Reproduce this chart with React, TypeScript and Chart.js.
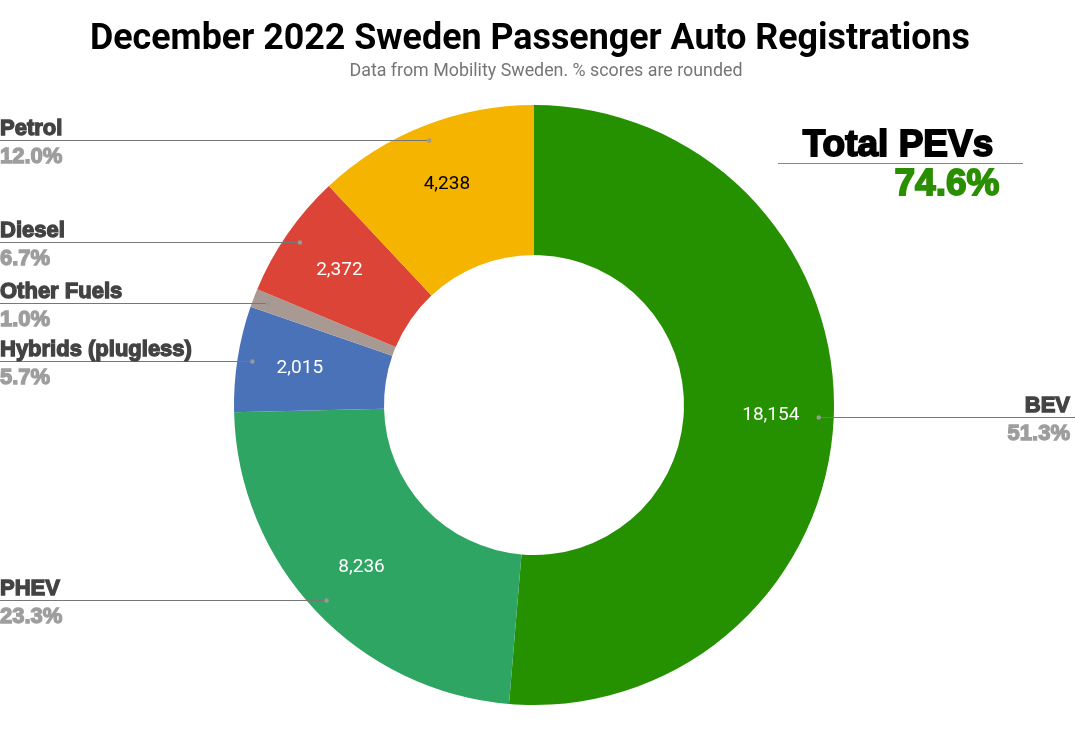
import React, { useEffect, useRef } from "react";
import { Chart, registerables } from "chart.js";

Chart.register(...registerables);

const TITLE = "December 2022 Sweden Passenger Auto Registrations";
const SUBTITLE = "Data from Mobility Sweden. % scores are rounded";
const CATEGORIES = ["BEV", "PHEV", "Hybrids (plugless)", "Other Fuels", "Diesel", "Petrol"];
const VALUES = [18154, 8236, 2015, 354, 2372, 4238];
const COLORS = ["#259000", "#2EA562", "#4A72B8", "#A89A93", "#DB4437", "#F4B400"];
const VALUE_TEXT_COLORS = ["#ffffff", "#ffffff", "#ffffff", "#ffffff", "#ffffff", "#000000"];
const PEV_CATEGORIES = ["BEV", "PHEV"];
const PEV_TITLE = "Total PEVs";

const W = 1075;
const H = 735;

function fitText(ctx: CanvasRenderingContext2D, text: string, cx: number, y: number, width: number) {
  const w = ctx.measureText(text).width;
  ctx.save();
  ctx.translate(cx, y);
  ctx.scale(width / w, 1);
  ctx.textAlign = "center";
  ctx.fillText(text, 0, 0);
  ctx.restore();
}

const labelPlugin = {
  id: "customLabels",
  afterDraw(chart: any) {
    const ctx = chart.ctx as CanvasRenderingContext2D;
    const meta = chart.getDatasetMeta(0);
    const total = VALUES.reduce((a, b) => a + b, 0);
    ctx.save();

    // Title
    ctx.fillStyle = "#000";
    ctx.textBaseline = "alphabetic";
    ctx.font = "bold 37px Roboto";
    fitText(ctx, TITLE, 530, 49, 880);
    ctx.fillStyle = "#757575";
    ctx.font = "18px Roboto";
    fitText(ctx, SUBTITLE, 546, 76, 393);

    const items: any[] = [];
    meta.data.forEach((arc: any, i: number) => {
      const mid = (arc.startAngle + arc.endAngle) / 2;
      const cx = arc.x, cy = arc.y;
      const rDot = arc.outerRadius * 0.95;
      const rVal = (arc.innerRadius + arc.outerRadius) / 2 + 12;
      ctx.font = "19px Roboto";
      ctx.fillStyle = VALUE_TEXT_COLORS[i];
      ctx.textAlign = "center";
      ctx.textBaseline = "middle";
      if (VALUES[i] / total > 0.02) {
        ctx.fillText(VALUES[i].toLocaleString("en-US"), cx + Math.cos(mid) * rVal, cy + Math.sin(mid) * rVal);
      }
      items.push({
        i,
        cx,
        cy,
        r: rDot,
        side: Math.cos(mid) >= 0 ? 1 : -1,
        y: cy + Math.sin(mid) * rDot,
      });
    });

    // keep labels apart (bottom-up)
    const minGap = 58;
    [-1, 1].forEach((side) => {
      const group = items.filter((it) => it.side === side).sort((a, b) => b.y - a.y);
      for (let k = 1; k < group.length; k++) {
        if (group[k].y > group[k - 1].y - minGap) group[k].y = group[k - 1].y - minGap;
      }
    });

    items.forEach((it) => {
      const dy = it.y - it.cy;
      const dx = Math.sqrt(Math.max(it.r * it.r - dy * dy, 0));
      const x = it.cx + it.side * dx;
      const y = Math.round(it.y) + 0.5;
      const edge = it.side < 0 ? 0 : W;
      ctx.strokeStyle = "#777";
      ctx.lineWidth = 1;
      ctx.beginPath();
      ctx.moveTo(x, y);
      ctx.lineTo(edge, y);
      ctx.stroke();
      ctx.fillStyle = "#999";
      ctx.beginPath();
      ctx.arc(x, y, 2.2, 0, Math.PI * 2);
      ctx.fill();

      const tx = it.side < 0 ? 0 : W - 5;
      ctx.textAlign = it.side < 0 ? "left" : "right";
      ctx.font = "bold 22px 'Liberation Sans'";
      ctx.lineWidth = 1.3;
      ctx.textBaseline = "alphabetic";
      ctx.fillStyle = "#434343";
      ctx.strokeStyle = "#434343";
      ctx.fillText(CATEGORIES[it.i], tx, y - 6);
      ctx.strokeText(CATEGORIES[it.i], tx, y - 6);
      const pct = ((VALUES[it.i] / total) * 100).toFixed(1) + "%";
      ctx.fillStyle = "#9e9e9e";
      ctx.strokeStyle = "#9e9e9e";
      ctx.fillText(pct, tx, y + 22);
      ctx.strokeText(pct, tx, y + 22);
    });

    // Total PEVs annotation
    const pev = VALUES.filter((_, i) => PEV_CATEGORIES.includes(CATEGORIES[i])).reduce((a, b) => a + b, 0);
    ctx.textAlign = "center";
    ctx.font = "bold 37px 'Liberation Sans'";
    ctx.lineWidth = 1.8;
    ctx.fillStyle = "#000";
    ctx.strokeStyle = "#000";
    ctx.fillText(PEV_TITLE, 898, 156);
    ctx.strokeText(PEV_TITLE, 898, 156);
    ctx.strokeStyle = "#888";
    ctx.lineWidth = 1;
    ctx.beginPath();
    ctx.moveTo(778, 163.5);
    ctx.lineTo(1023, 163.5);
    ctx.stroke();
    const pevTxt = ((pev / total) * 100).toFixed(1) + "%";
    ctx.fillStyle = "#2A8F00";
    ctx.strokeStyle = "#2A8F00";
    ctx.lineWidth = 1.8;
    ctx.fillText(pevTxt, 947, 195);
    ctx.strokeText(pevTxt, 947, 195);

    ctx.restore();
  },
};

export default function App() {
  const ref = useRef<HTMLCanvasElement>(null);
  useEffect(() => {
    if (!ref.current) return;
    const chart = new Chart(ref.current, {
      type: "doughnut",
      data: {
        labels: CATEGORIES,
        datasets: [
          {
            data: VALUES,
            backgroundColor: COLORS,
            borderWidth: 0,
            hoverBorderWidth: 0,
            hoverOffset: 0,
          },
        ],
      },
      options: {
        responsive: false,
        animation: false,
        cutout: "50%",
        layout: { padding: { top: 105, bottom: 30, left: 234, right: 241 } },
        plugins: {
          legend: { display: false },
          title: { display: false },
          tooltip: { enabled: false },
        },
      },
      plugins: [labelPlugin],
    });
    return () => chart.destroy();
  }, []);
  return (
    <div style={{ position: "fixed", left: 0, top: 0, width: W, height: H, background: "#fff" }}>
      <canvas ref={ref} width={W} height={H} />
    </div>
  );
}
